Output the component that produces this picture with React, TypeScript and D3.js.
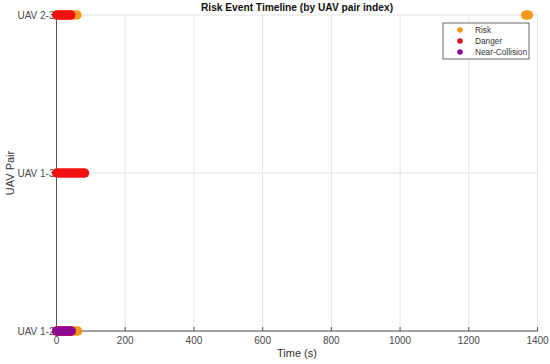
import React, { useRef, useEffect } from 'react';
import * as d3 from 'd3';

// pair labels (y index 1..3)
const pairLabels = ['UAV 1-2', 'UAV 1-3', 'UAV 2-3'];
const xTicks = [0, 200, 400, 600, 800, 1000, 1200, 1400];

// event times (s) per pair
const riskTimes12 = [0, 4, 8, 12, 16, 20, 24, 28, 32, 36, 40, 44, 48, 52, 56, 60, 62];
const dangerTimes12 = [0, 4, 8, 12, 16, 20, 24, 28, 32, 36, 40, 44];
const nearTimes12 = [0, 4, 8, 12, 16, 20, 24, 28, 32, 36, 40, 42];
const dangerTimes13 = [0, 4, 8, 12, 16, 20, 24, 28, 32, 36, 40, 44, 48, 52, 56, 60, 64, 68, 72, 76, 80, 82];
const riskTimes23 = [0, 4, 8, 12, 16, 20, 24, 28, 32, 36, 40, 44, 48, 52, 56, 60, 1365, 1368, 1371, 1374];
const dangerTimes23 = [0, 4, 8, 12, 16, 20, 24, 28, 32, 36, 40, 42];

const series = [
  { name: 'Risk', color: '#f39a1e', events: [{ pair: 1, times: riskTimes12 }, { pair: 3, times: riskTimes23 }] },
  { name: 'Danger', color: '#f21111', events: [{ pair: 1, times: dangerTimes12 }, { pair: 2, times: dangerTimes13 }, { pair: 3, times: dangerTimes23 }] },
  { name: 'Near-Collision', color: '#8e0a94', events: [{ pair: 1, times: nearTimes12 }] },
];
const legendColors = ['#f39a1e', '#d0161e', '#8e0a94'];

const App = () => {
  const ref = useRef<SVGSVGElement>(null);

  useEffect(() => {
    if (!ref.current) return;
    const svg = d3.select(ref.current);
    svg.selectAll('*').remove();
    const font = '"Liberation Sans", Arial, sans-serif';

    const x = d3.scaleLinear().domain([0, 1400]).range([56.5, 537.5]);
    const y = d3.scaleLinear().domain([1, 3]).range([331, 15]);

    svg.append('rect').attr('width', 550).attr('height', 364).attr('fill', '#fff');

    // grid
    const grid = svg.append('g').attr('stroke', '#e3e3e3').attr('stroke-width', 1);
    xTicks.forEach(t => {
      grid.append('line').attr('x1', x(t)).attr('x2', x(t)).attr('y1', y(3)).attr('y2', y(1));
    });
    [1, 2, 3].forEach(t => {
      grid.append('line').attr('x1', x(0)).attr('x2', x(1400)).attr('y1', y(t)).attr('y2', y(t));
    });

    // axes
    const ax = svg.append('g').attr('stroke', '#555').attr('stroke-width', 1);
    ax.append('line').attr('x1', x(0)).attr('x2', x(1400)).attr('y1', y(1)).attr('y2', y(1));
    ax.append('line').attr('x1', x(0)).attr('x2', x(0)).attr('y1', y(3)).attr('y2', y(1));
    xTicks.forEach(t => {
      ax.append('line').attr('x1', x(t)).attr('x2', x(t)).attr('y1', y(1)).attr('y2', y(1) - 4);
    });
    [1, 2, 3].forEach(t => {
      ax.append('line').attr('x1', x(0)).attr('x2', x(0) + 4).attr('y1', y(t)).attr('y2', y(t));
    });

    svg.append('g').selectAll('text').data(xTicks).join('text')
      .attr('x', d => x(d)).attr('y', y(1) + 13)
      .attr('text-anchor', 'middle')
      .style('font', `10px ${font}`).attr('fill', '#4a4a4a')
      .text(d => d);

    svg.append('g').selectAll('text').data(pairLabels).join('text')
      .attr('x', x(0) - 2).attr('y', (d, i) => y(i + 1) + 3.5)
      .attr('text-anchor', 'end')
      .style('font', `10px ${font}`).attr('fill', '#4a4a4a')
      .text(d => d);

    // markers
    series.forEach(s => {
      s.events.forEach(ev => {
        svg.append('g').selectAll('circle').data(ev.times).join('circle')
          .attr('cx', d => x(d)).attr('cy', y(ev.pair))
          .attr('r', 4.6).attr('fill', s.color);
      });
    });

    // title + labels
    svg.append('text').attr('x', 297).attr('y', 11).attr('text-anchor', 'middle')
      .style('font', `bold 10.2px ${font}`).attr('fill', '#111')
      .text('Risk Event Timeline (by UAV pair index)');
    svg.append('text').attr('x', 297).attr('y', 357).attr('text-anchor', 'middle')
      .style('font', `11px ${font}`).attr('fill', '#333').text('Time (s)');
    svg.append('text').attr('transform', 'translate(14,173) rotate(-90)').attr('text-anchor', 'middle')
      .style('font', `11px ${font}`).attr('fill', '#333').text('UAV Pair');

    // legend
    const lg = svg.append('g').attr('transform', 'translate(443,23)');
    lg.append('rect').attr('width', 86).attr('height', 36).attr('fill', '#fff')
      .attr('stroke', '#444').attr('stroke-width', 0.8);
    series.forEach((s, i) => {
      lg.append('circle').attr('cx', 17).attr('cy', 7 + i * 11).attr('r', 2.8).attr('fill', legendColors[i]);
      lg.append('text').attr('x', 32).attr('y', 10 + i * 11)
        .style('font', `8.3px ${font}`).attr('fill', '#333').text(s.name);
    });
  }, []);

  return <svg ref={ref} width={550} height={364} style={{ position: 'absolute', left: 0, top: 0 }} />;
};

export default App;
